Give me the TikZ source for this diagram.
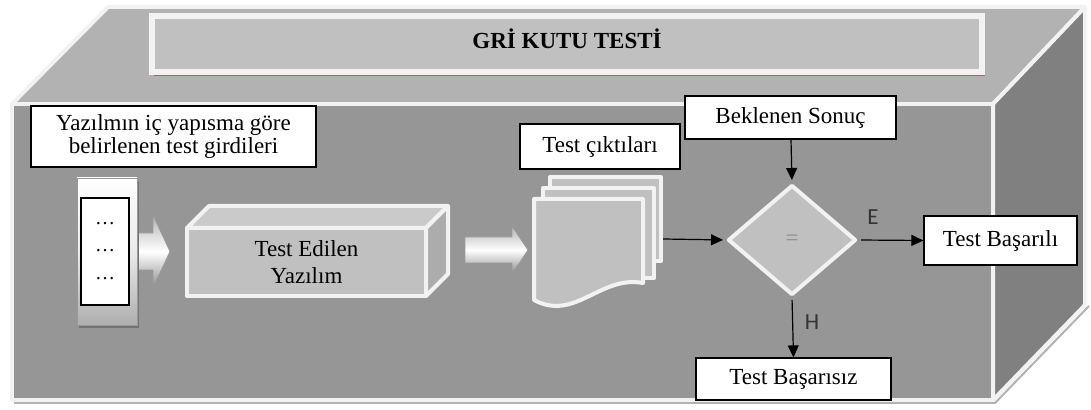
\documentclass[tikz,border=0pt]{standalone}
\usepackage{fontspec}
\setmainfont{Liberation Serif}
\newfontfamily\lblfont{Carlito}
\usetikzlibrary{arrows.meta,shapes.geometric}
\definecolor{boxtop}{RGB}{178,178,178}
\definecolor{boxfront}{RGB}{150,150,150}
\definecolor{boxside}{RGB}{128,128,128}
\definecolor{edgew}{RGB}{242,242,242}
\definecolor{panel}{RGB}{192,192,192}
\definecolor{cubetop}{RGB}{202,202,202}
\definecolor{cubeside}{RGB}{172,172,172}
\definecolor{ttlshadow}{RGB}{160,105,95}
\tikzset{
  face/.style  ={draw=edgew, line width=2pt, line join=round},
  tbox/.style  ={draw=black, line width=0.6pt, fill=white, inner sep=1pt, align=center, font=\fontsize{11.5}{13.5}\selectfont},
  arr/.style   ={draw=black, line width=0.6pt, -{Triangle[length=6pt,width=5.5pt]}},
  lbl/.style   ={font=\lblfont\fontsize{11.5}{13.5}\selectfont, text=black!80, inner sep=1pt},
  barrow/.style={draw=black!40, line width=0.4pt},
}

\begin{document}
\begin{tikzpicture}[x=0.5pt,y=-0.5pt]
  \useasboundingbox (0,0) rectangle (1091,410);
  \draw[black!30, line width=1pt] (14,403) -- (995,403) -- (1089,306);
  \fill[boxtop] (12,104) -- (108,7) -- (1085,7) -- (993,104) -- cycle;
  \draw[face] (12,104) -- (108,7) -- (1085,7) -- (993,104);
  \draw[face, fill=boxside] (993,104) -- (1085,7) -- (1085,305) -- (993,400) -- cycle;
  \draw[face, fill=boxfront] (12,104) rectangle (993,400);
  \fill[ttlshadow] (154,19) rectangle (985,76);
  \draw[draw=edgew, line width=3pt, fill=panel] (152,16) rectangle (982,72);
  \node[font=\bfseries\fontsize{11.5}{13.5}\selectfont] (title) at (567,39) {GRİ KUTU TESTİ};
  \node[tbox, minimum width=142.5pt, minimum height=30.5pt, font=\fontsize{11.5}{11.8}\selectfont] (inbox) at (173.5,136.5) {Yazılmın iç yapısma göre\\belirlenen test girdileri};
  \shade[top color=black!30, bottom color=black!45, middle color=white] (130,233) -- (153,233) -- (153,215) -- (170,251.5) -- (153,288) -- (153,270) -- (130,270) -- cycle;
  \draw[barrow] (130,233) -- (153,233) -- (153,215) -- (170,251.5) -- (153,288) -- (153,270) -- (130,270);
  \fill[black!55] (79,181) rectangle (139,328);
  \shade[top color=white, bottom color=black!32, middle color=white!92!black] (77,178) rectangle (137,325);
  \draw[black!40, line width=0.4pt] (77,178) rectangle (137,325);
  \draw[black, line width=0.6pt, fill=white] (81,198) rectangle (129,305);
  \node[font=\fontsize{10}{12}\selectfont] (dot1) at (105,224) {…};
  \node[font=\fontsize{10}{12}\selectfont] (dot2) at (105,251) {…};
  \node[font=\fontsize{10}{12}\selectfont] (dot3) at (105,279) {…};
  \draw[face, fill=cubetop] (187,228) -- (209,206) -- (448,206) -- (426,228) -- cycle;
  \draw[face, fill=cubeside] (426,228) -- (448,206) -- (448,274) -- (426,296) -- cycle;
  \draw[face, fill=panel] (187,228) rectangle (426,296);
  \node[align=center, font=\fontsize{11.5}{13.5}\selectfont] (sut) at (306.5,262) {Test Edilen\\Yazılım};
  \shade[top color=black!30, bottom color=black!45, middle color=white] (465,237) -- (512,237) -- (512,226) -- (528,250) -- (512,274) -- (512,263) -- (465,263) -- cycle;
  \draw[barrow] (465,237) -- (512,237) -- (512,226) -- (528,250) -- (512,274) -- (512,263) -- (465,263) -- cycle;
  \node[tbox, minimum width=80pt, minimum height=22.5pt] (outbox) at (600,146.5) {Test çıktıları};
  \draw[face, fill=panel] (550,177) rectangle (661,261);
  \draw[face, fill=panel] (543,188) rectangle (654,278);
  \draw[face, fill=panel] (534,199) -- (643,199) -- (643,283) .. controls (600,275) and (575,322) .. (534,300) -- cycle;
  \node[tbox, minimum width=105.5pt, minimum height=21.5pt] (expbox) at (790.5,117.5) {Beklenen Sonuç};
  \node[face, diamond, fill=panel, minimum width=64pt, minimum height=55pt, inner sep=0pt, text=black!45, font=\fontsize{11.5}{13.5}\selectfont] (cmp) at (792,240) {=};
  \node[tbox, minimum width=76.5pt, minimum height=24.5pt] (okbox) at (1000.5,240.5) {Test Başarılı};
  \node[tbox, minimum width=97.5pt, minimum height=21pt] (failbox) at (793.5,379) {Test Başarısız};
  \coordinate (docout) at (663,239);
  \draw[arr, shorten >=1.5pt] (docout) -- (cmp.west);
  \draw[arr, shorten >=1.5pt] (expbox) -- (cmp.north);
  \draw[arr, shorten <=1.5pt] (cmp.east) -- (okbox.west);
  \draw[arr, shorten <=1.5pt] (cmp.south) -- (failbox.north);
  \node[lbl] (lblE) at (873,217) {E};
  \node[lbl] (lblH) at (812,322) {H};
\end{tikzpicture}
\end{document}
